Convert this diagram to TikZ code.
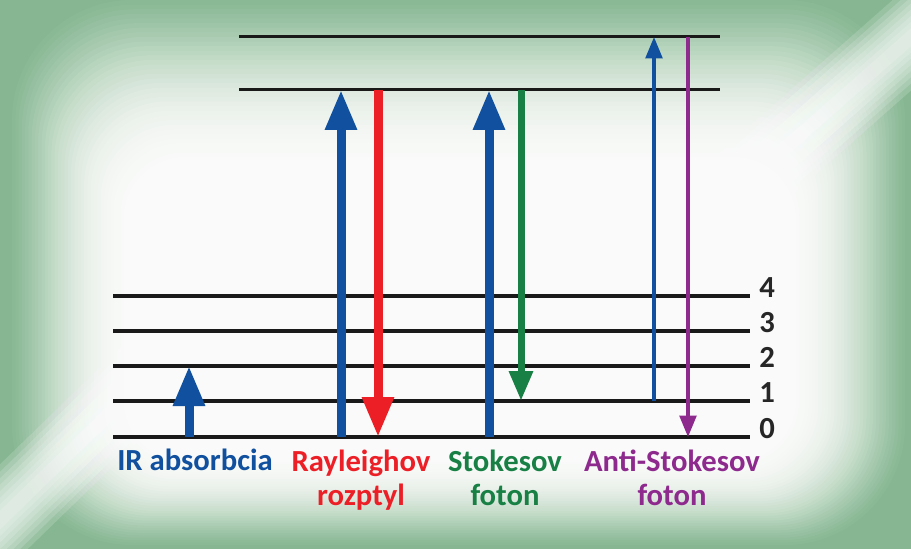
\documentclass[tikz,border=0pt]{standalone}
\usepackage{fontspec}
\setmainfont{Carlito}
\usepackage{tikz}
\usetikzlibrary{arrows.meta}

\definecolor{bggreen}{RGB}{134,183,146}
\definecolor{ramanblue}{RGB}{16,80,158}
\definecolor{ramanred}{RGB}{236,30,38}
\definecolor{ramangreen}{RGB}{24,128,68}
\definecolor{ramanpurple}{RGB}{142,42,142}

\begin{document}
\begin{tikzpicture}[x=0.75pt, y=-0.75pt,
  level/.style={line width=3pt, black!90},
  virtual/.style={line width=2.25pt, black!90},
  lbl/.style={font=\fontsize{23}{25.5}\selectfont\bfseries, align=center, anchor=base, inner sep=0pt},
  num/.style={font=\fontsize{23}{25.5}\selectfont\bfseries, anchor=base west, inner sep=0pt, black!85},
  fat/.style={line width=6.75pt, -{Triangle[width=22.5pt, length=30pt]}},
  mid/.style={line width=5.25pt, -{Triangle[width=17pt, length=22.5pt]}},
  slim/.style={line width=2.5pt, -{Triangle[width=12.5pt, length=16pt]}}]
  \useasboundingbox (0,0) rectangle (911,549);

  % ----- Background -----
  \fill[bggreen] (0,0) rectangle (911,549);
  \begin{scope}
    \clip (0,0) rectangle (911,549);
    % diagonal glare
    \foreach \w in {60,52,45,38,31,24,17,10} {
      \draw[white, opacity=0.16, line width=\w pt] (985,-28) -- (690,232);
      \draw[white, opacity=0.16, line width=\w pt] (-40,559) -- (170,355);
    }
    % white centre, fading out towards the frame
    \foreach \i in {0,...,39} {
      \pgfmathsetmacro{\t}{\i/39}
      \fill[white, opacity={0.03+0.16*\t}, rounded corners={90-50*\t}]
        ({12+128*\t},{0+180*\t}) rectangle ({905-125*\t},{545-95*\t});
    }
  \end{scope}

  % ----- Vibrational levels -----
  \foreach \n/\y in {0/437, 1/401, 2/366, 3/331, 4/296} {
    \draw[level] (113,\y) coordinate (v\n) -- (750,\y);
    \node[num] (num\n) at (759,\y+1) {\n};
  }

  % ----- Virtual levels -----
  \draw[virtual] (239,90) coordinate (e1) -- (720,90);
  \draw[virtual] (239,37) coordinate (e2) -- (720,37);

  % Columns of the transitions
  \coordinate (ir) at (189,0);
  \coordinate (rayup) at (341,0);
  \coordinate (raydown) at (378,0);
  \coordinate (stup) at (489,0);
  \coordinate (stdown) at (521,0);
  \coordinate (asup) at (654,0);
  \coordinate (asdown) at (688,0);

  % ----- Transitions -----
  \draw[fat, ramanblue] (ir |- v0) -- (ir |- v2);
  \draw[fat, ramanblue] (rayup |- v0) -- (rayup |- e1);
  \draw[fat, ramanred] (raydown |- e1) -- (raydown |- v0);
  \draw[fat, ramanblue] (stup |- v0) -- (stup |- e1);
  \draw[mid, ramangreen] (stdown |- e1) -- (stdown |- v1);
  \draw[slim, ramanblue] (asup |- v1) -- (asup |- e2);
  \draw[slim, ramanpurple] (asdown |- e2) -- (asdown |- v0);

  % ----- Labels (base = last line) -----
  \node[lbl, ramanblue] (irlbl) at (195,470) {IR absorbcia};
  \node[lbl, ramanred] (raylbl) at (361,505) {Rayleighov\\rozptyl};
  \node[lbl, ramangreen] (stlbl) at (505,505) {Stokesov\\foton};
  \node[lbl, ramanpurple] (aslbl) at (672,505) {Anti-Stokesov\\foton};

\end{tikzpicture}
\end{document}
